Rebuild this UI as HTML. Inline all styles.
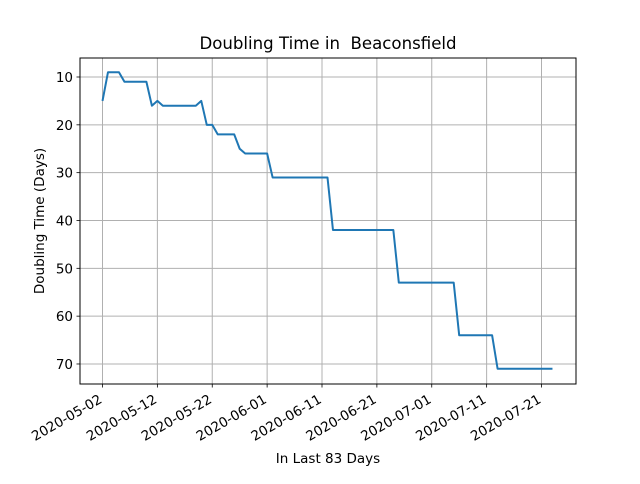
<!DOCTYPE html>
<html><head><meta charset="utf-8"><style>
body{margin:0;background:#fff;font-family:"DejaVu Sans","Liberation Sans",sans-serif}
</style></head><body>
<svg id="chart" width="640" height="480" xmlns="http://www.w3.org/2000/svg" font-family="DejaVu Sans, Liberation Sans, sans-serif">
<rect width="640" height="480" fill="#fff"/>
<text x="328" y="49" text-anchor="middle" font-size="16.6" style="white-space:pre">Doubling Time in  Beaconsfield</text>
<g id="grid"></g><g id="ticks"></g>
<path id="line" fill="none" stroke="#1f77b4" stroke-width="2" stroke-linejoin="round"/>
<rect x="80" y="58" width="496" height="326" fill="none" stroke="#000" stroke-width="1"/>
<text x="328" y="463" text-anchor="middle" font-size="13.5">In Last 83 Days</text>
<text transform="translate(44,221) rotate(-90)" text-anchor="middle" font-size="13.5">Doubling Time (Days)</text>
</svg>
<script>
const values = [15,9,9,9,11,11,11,11,11,16,15,16,16,16,16,16,16,16,15,20,20,22,22,22,22,25,26,26,26,26,26,31,31,31,31,31,31,31,31,31,31,31,42,42,42,42,42,42,42,42,42,42,42,42,53,53,53,53,53,53,53,53,53,53,53,64,64,64,64,64,64,64,71,71,71,71,71,71,71,71,71,71,71];
const xTickDays = [0,10,20,30,40,50,60,70,80];
const xTickLabels = ["2020-05-02","2020-05-12","2020-05-22","2020-06-01","2020-06-11","2020-06-21","2020-07-01","2020-07-11","2020-07-21"];
const yTicks = [10,20,30,40,50,60,70];
const NS="http://www.w3.org/2000/svg";
const xs = d => 102.5 + d*5.4875;
const ys = v => 77 + (v-10)*4.783;
const grid=document.getElementById('grid'), ticks=document.getElementById('ticks');
function mk(tag,attrs,parent){const e=document.createElementNS(NS,tag);for(const k in attrs)e.setAttribute(k,attrs[k]);parent.appendChild(e);return e;}
xTickDays.forEach((d,i)=>{
  const x=xs(d);
  const g=mk('line',{x1:x,x2:x,y1:58,y2:384,stroke:'#b0b0b0','stroke-width':1},grid);
  
  
  mk('line',{x1:x,x2:x,y1:384,y2:387.5,stroke:'#000','stroke-width':0.8},ticks);
  const t=mk('text',{'text-anchor':'end','font-size':13.5,transform:`translate(${x+0.5},${402}) rotate(-30)`},ticks);
  t.textContent=xTickLabels[i];
  
  
});
yTicks.forEach(v=>{
  const y=ys(v);
  const g=mk('line',{x1:80,x2:576,y1:y,y2:y,stroke:'#b0b0b0','stroke-width':1},grid);
  
  
  mk('line',{x1:76.5,x2:80,y1:y,y2:y,stroke:'#000','stroke-width':0.8},ticks);
  const t=mk('text',{x:73,y:y+5,'text-anchor':'end','font-size':13.5},ticks);
  t.textContent=v;
  
  
});
document.getElementById('line').setAttribute('d',values.map((v,i)=>(i?'L':'M')+xs(i).toFixed(2)+','+ys(v).toFixed(2)).join(''));
</script>
</body></html>
